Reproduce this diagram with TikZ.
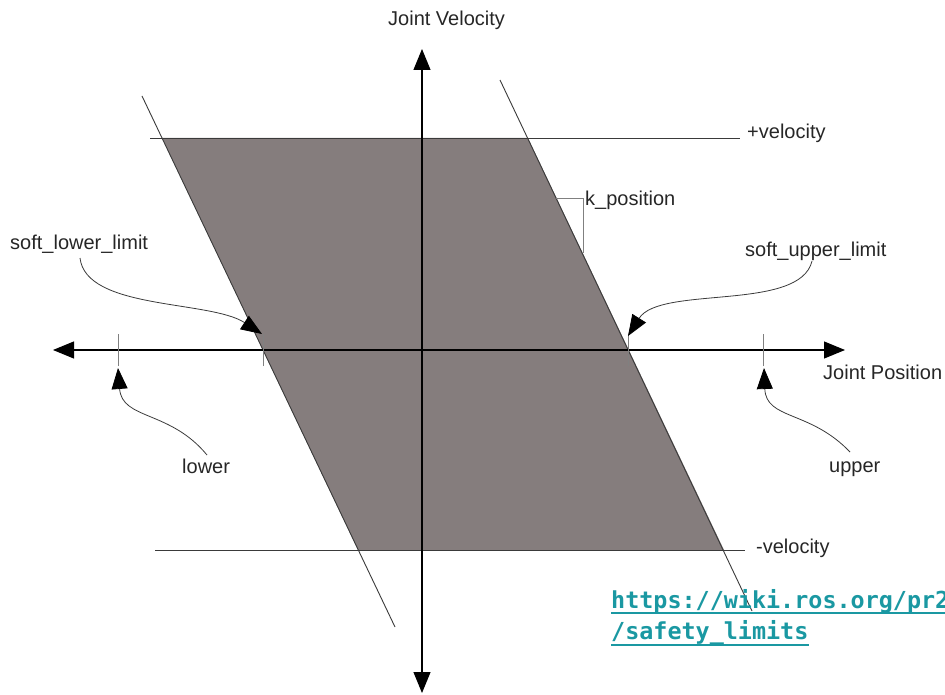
\documentclass[tikz,border=0pt]{standalone}
\usepackage{fontspec}
\setmainfont{Liberation Sans}
\newfontfamily\urlfont{DejaVu Sans Mono}
\usetikzlibrary{arrows.meta}
\definecolor{fillgray}{HTML}{857D7D}
\definecolor{txt}{HTML}{262626}
\definecolor{urlteal}{HTML}{1A98A2}
\definecolor{linegray}{HTML}{3A3A3A}
\begin{document}
\begin{tikzpicture}[x=1pt,y=-1pt,
  lbl/.style={font=\fontsize{20}{24}\selectfont, text=txt, inner sep=0pt, anchor=base west},
  axisline/.style={line width=1.1pt, black, {Triangle[length=21pt,width=17pt]}-{Triangle[length=21pt,width=17pt]}},
  thinline/.style={line width=0.9pt, linegray},
  tickline/.style={line width=0.8pt, gray},
  callout/.style={line width=0.8pt, linegray, -{Triangle[length=21pt,width=16pt,fill=black,color=black]}},
  urltext/.style={font=\urlfont\bfseries\fontsize{23.4}{28}\selectfont, text=urlteal, inner sep=0pt, anchor=base west}
]
\useasboundingbox (0,0) rectangle (945,695);
% parallelogram region
\fill[fillgray] (162,138) -- (528,138) -- (724,550) -- (358,550) -- cycle;
% slanted limit lines
\coordinate (lt) at (142,96);
\coordinate (lb) at (395,627);
\coordinate (rt) at (500,80);
\coordinate (rb) at (752,611);
\draw[thinline] (lt) -- (lb);
\draw[thinline] (rt) -- (rb);
% velocity lines
\coordinate (pvl) at (150,138);
\coordinate (pvr) at (740,138);
\coordinate (nvl) at (155,550);
\coordinate (nvr) at (745,550);
\draw[thinline] (pvl) -- (pvr);
\draw[thinline] (nvl) -- (nvr);
% axes
\coordinate (vtop) at (422,49);
\coordinate (vbot) at (422,693);
\coordinate (hleft) at (53,350);
\coordinate (hright) at (845,350);
\draw[axisline] (vbot) -- (vtop);
\draw[axisline] (hleft) -- (hright);
% ticks
\coordinate (tlow) at (118,350);
\coordinate (tsl) at (263,350);
\coordinate (tsu) at (628.5,350);
\coordinate (tup) at (763,350);
\foreach \t in {tlow,tsl,tsu,tup}
  \draw[tickline] ([yshift=-16pt]\t) -- ([yshift=16pt]\t);
% k_position bracket
\coordinate (k1) at (556,198);
\coordinate (k2) at (583,198);
\coordinate (k3) at (583,253);
\draw[tickline] (k1) -- (k2) -- (k3);
% labels
\node[lbl] (jv) at (388,26) {Joint Velocity};
\node[lbl] (jp) at (823,379) {Joint Position};
\node[lbl] (pv) at (747,139) {+velocity};
\node[lbl] (nv) at (756,553) {-velocity};
\node[lbl] (kp) at (585,206) {k\_position};
\node[lbl] (sll) at (10,249) {soft\_lower\_limit};
\node[lbl] (sul) at (745,256) {soft\_upper\_limit};
\node[lbl] (lw) at (182,473) {lower};
\node[lbl] (up) at (829,472) {upper};
% callouts
\coordinate (c1s) at (80,258);
\coordinate (c1e) at (262,334);
\coordinate (c2s) at (812,261);
\coordinate (c2e) at (628,336);
\coordinate (c3s) at (207,455);
\coordinate (c3e) at (118,368);
\coordinate (c4s) at (850,452);
\coordinate (c4e) at (764,368);
\draw[callout] (c1s) .. controls (86,310) and (210,300) .. (c1e);
\draw[callout] (c2s) .. controls (800,312) and (660,285) .. (c2e);
\draw[callout] (c3s) .. controls (170,410) and (122,420) .. (c3e);
\draw[callout] (c4s) .. controls (810,410) and (766,420) .. (c4e);
% url (cut off at the right edge, as in the reference)
\begin{scope}
\clip (0,0) rectangle (945,695);
\node[urltext] (url1) at (611,608) {https://wiki.ros.org/pr2};
\node[urltext] (url2) at (611,639) {/safety\_limits};
\draw[urlteal, line width=1.6pt] ([yshift=-5pt]url1.base west) -- ([yshift=-5pt]url1.base east);
\draw[urlteal, line width=1.6pt] ([yshift=-6pt]url2.base west) -- ([yshift=-6pt]url2.base east);
\end{scope}
\end{tikzpicture}
\end{document}
